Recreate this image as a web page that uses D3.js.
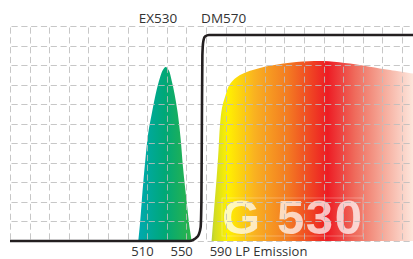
<!DOCTYPE html>
<html>
<head>
<meta charset="utf-8">
<script src="https://cdn.jsdelivr.net/npm/d3@7"></script>
<style>
  body { margin: 0; background: #fff; }
  svg { display: block; }
</style>
</head>
<body>
<script>
// spectra, wavelength (nm) vs transmission (%)
var exWave = [505.9, 507.5, 509.4, 512.8, 516, 520, 524, 528, 531, 533.9, 537, 540, 543, 546, 549, 551.5, 555.3, 558.5, 560.4];
var exValue = [0, 8, 20, 39.9, 55, 66, 76, 83.5, 87.5, 89, 87.3, 82, 75, 66, 53, 38, 20, 6, 0];

var emWave = [580.8, 583.2, 585.9, 587.8, 589.3, 591.3, 594.4, 599.5, 609.7, 630, 654, 680, 700, 722, 742, 763, 790];
var emValue = [0, 15.9, 32.7, 46.6, 59.3, 68, 73.7, 80.3, 84.9, 88.5, 90.8, 92, 92, 90.8, 89.2, 87.5, 85.4];

var dmWave = [375, 558, 562, 565, 567.5, 569.5, 570.3, 570.8, 571.3, 572.2, 574, 578, 790];
var dmValue = [0, 0, 0.6, 1.6, 3.2, 7, 20, 60, 95, 102, 104.6, 105.4, 105.4];

var gridWave = d3.range(375, 776, 20);
var gridValue = d3.range(0, 111, 10);

var topLabels = [{text: "EX530", wave: 526, anchor: "middle"}, {text: "DM570", wave: 570, anchor: "start"}];
var bottomLabels = [{text: "510", wave: 510}, {text: "550", wave: 550}, {text: "590 LP Emission", wave: 590}];
var filterName = "G 530";

var width = 413, height = 259;

var x = d3.scaleLinear().domain([375, 775]).range([10, 402]);
var y = d3.scaleLinear().domain([0, 110]).range([241, 26]);

var svg = d3.select("body").append("svg")
    .attr("width", width)
    .attr("height", height);

var defs = svg.append("defs");

var exGrad = defs.append("linearGradient")
    .attr("id", "exGrad")
    .attr("gradientUnits", "userSpaceOnUse")
    .attr("x1", x(506)).attr("x2", x(560))
    .attr("y1", 0).attr("y2", 0);
exGrad.append("stop").attr("offset", 0).attr("stop-color", "#00a9b0");
exGrad.append("stop").attr("offset", 0.5).attr("stop-color", "#00a877");
exGrad.append("stop").attr("offset", 1).attr("stop-color", "#2db44a");

var emStops = [[581, "#b8d234"], [584, "#d2dc22"], [597, "#fff100"], [625, "#f9b121"], [659, "#f37a22"], [699, "#ed1c24"], [727, "#ef6b5c"], [755, "#f5a898"], [786, "#fde6dc"]];
var emGrad = defs.append("linearGradient")
    .attr("id", "emGrad")
    .attr("gradientUnits", "userSpaceOnUse")
    .attr("x1", x(581)).attr("x2", x(786))
    .attr("y1", 0).attr("y2", 0);
emGrad.selectAll("stop")
    .data(emStops)
    .enter().append("stop")
    .attr("offset", function(d) { return (d[0] - 581) / (786 - 581); })
    .attr("stop-color", function(d) { return d[1]; });

var area = d3.area()
    .x(function(d) { return x(d[0]); })
    .y0(y(0))
    .y1(function(d) { return y(d[1]); })
    .curve(d3.curveCatmullRom.alpha(0.5));

svg.append("path")
    .datum(d3.zip(exWave, exValue))
    .attr("d", area)
    .style("fill", "url(#exGrad)");

svg.append("path")
    .datum(d3.zip(emWave, emValue))
    .attr("d", area)
    .style("fill", "url(#emGrad)");

// filter name, pale over the emission band
svg.append("rect")
    .attr("x", 222).attr("y", 198)
    .attr("width", 141).attr("height", 38)
    .style("fill", "none")
    .style("stroke", "rgba(255,255,255,0.35)")
    .style("stroke-width", 0.8);

svg.append("text")
    .attr("x", 222)
    .attr("y", 233.5)
    .attr("textLength", 140)
    .style("font-family", "Liberation Sans, Arial, sans-serif")
    .style("font-weight", "bold")
    .style("font-size", "49px")
    .style("fill", "#fff")
    .style("fill-opacity", 0.72)
    .text(filterName);

// dashed grid on top of the fills
var grid = svg.append("g")
    .style("stroke", "#bdbdbd")
    .style("stroke-opacity", 0.85)
    .style("stroke-width", 1)
    .style("stroke-dasharray", "6.2,3.6");

grid.selectAll(".h")
    .data(gridValue)
    .enter().append("line")
    .attr("x1", x(375)).attr("x2", width)
    .attr("y1", function(d) { return Math.round(y(d)) + 0.5; })
    .attr("y2", function(d) { return Math.round(y(d)) + 0.5; })
    .style("stroke-dashoffset", -1.5);

grid.selectAll(".v")
    .data(gridWave)
    .enter().append("line")
    .attr("x1", function(d) { return Math.round(x(d)) + 0.5; })
    .attr("x2", function(d) { return Math.round(x(d)) + 0.5; })
    .attr("y1", y(110)).attr("y2", y(0))
    .style("stroke-dashoffset", -1.5);

// dichroic curve
var line = d3.line()
    .x(function(d) { return x(d[0]); })
    .y(function(d) { return y(d[1]); })
    .curve(d3.curveMonotoneX);

svg.append("path")
    .datum(d3.zip(dmWave, dmValue))
    .attr("d", line)
    .style("fill", "none")
    .style("stroke", "#231f20")
    .style("stroke-width", 2.6)
    .style("stroke-linejoin", "round");

svg.selectAll(".toplabel")
    .data(topLabels)
    .enter().append("text")
    .attr("x", function(d) { return x(d.wave); })
    .attr("y", 22.5)
    .attr("text-anchor", function(d) { return d.anchor; })
    .style("font-family", "Open Sans, sans-serif")
    .style("font-size", "13.5px")
    .style("fill", "#333")
    .text(function(d) { return d.text; });

svg.selectAll(".botlabel")
    .data(bottomLabels)
    .enter().append("text")
    .attr("x", function(d) { return x(d.wave) - 11; })
    .attr("y", 256)
    .style("font-family", "Open Sans, sans-serif")
    .style("font-size", "13px")
    .style("fill", "#333")
    .text(function(d) { return d.text; });
</script>
</body>
</html>
